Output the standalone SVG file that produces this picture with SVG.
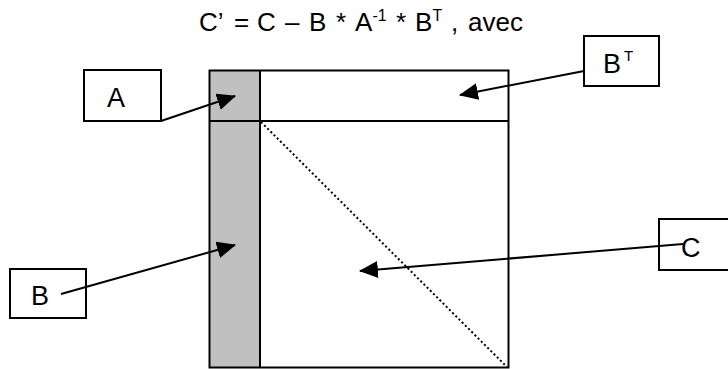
<svg xmlns="http://www.w3.org/2000/svg" width="728" height="369" viewBox="0 0 728 369">
<style>
.txt{font-family:"Liberation Sans",Arial,sans-serif;fill:#000}
.title{font-size:26px}
.sup{font-size:16px}
.lbl{font-size:27px}
.box{fill:#fff;stroke:#000;stroke-width:2}
.conn{stroke:#000;stroke-width:2;fill:none}
</style>
<defs>
<marker id="ah" viewBox="0 0 18 16" refX="17" refY="8" markerWidth="19" markerHeight="17" markerUnits="userSpaceOnUse" orient="auto">
<path d="M0,0 L18,8 L0,16 z" fill="#000"/>
</marker>
</defs>
<rect width="728" height="369" fill="#fff"/>
<g id="title">
<text class="txt title" y="31"><tspan x="199">C’</tspan><tspan x="234">=</tspan><tspan x="257">C</tspan><tspan x="285">–</tspan><tspan x="309">B</tspan><tspan x="336">*</tspan><tspan x="355">A</tspan><tspan class="sup" x="372.5" dy="-10">-1</tspan><tspan x="396" dy="10">*</tspan><tspan x="415">B</tspan><tspan class="sup" x="432.5" dy="-10">T</tspan><tspan x="451" dy="10">,</tspan><tspan x="468">avec</tspan></text>
</g>
<g id="matrix">
<rect x="209.5" y="70.5" width="50.5" height="297" fill="#c0c0c0"/>
<rect x="209.5" y="70.5" width="299" height="297" fill="none" stroke="#000" stroke-width="2"/>
<line x1="260" y1="70.5" x2="260" y2="367.5" stroke="#000" stroke-width="2"/>
<line x1="209.5" y1="121" x2="508.5" y2="121" stroke="#000" stroke-width="2"/>
<line x1="261" y1="122" x2="507" y2="367" stroke="#000" stroke-width="2" stroke-dasharray="2 2.5"/>
</g>
<g id="node-A">
<rect class="box" x="84" y="70" width="77" height="51"/>
<text class="txt lbl" x="107" y="107">A</text>
</g>
<g id="node-BT">
<rect class="box" x="584" y="36" width="75" height="50"/>
<text class="txt lbl" x="603" y="73">B<tspan x="624" y="61" font-size="15">T</tspan></text>
</g>
<g id="node-B">
<rect class="box" x="10" y="269" width="76" height="49"/>
<text class="txt lbl" x="31" y="305">B</text>
</g>
<g id="node-C">
<rect class="box" x="659" y="219" width="72" height="51"/>
<text class="txt lbl" x="681" y="257">C</text>
</g>
<g id="connectors">
<line class="conn" x1="161" y1="121" x2="235" y2="96" marker-end="url(#ah)"/>
<line class="conn" x1="584" y1="71" x2="460" y2="95" marker-end="url(#ah)"/>
<line class="conn" x1="61" y1="294" x2="235" y2="245" marker-end="url(#ah)"/>
<line class="conn" x1="683" y1="244" x2="360" y2="271" marker-end="url(#ah)"/>
</g>
</svg>
